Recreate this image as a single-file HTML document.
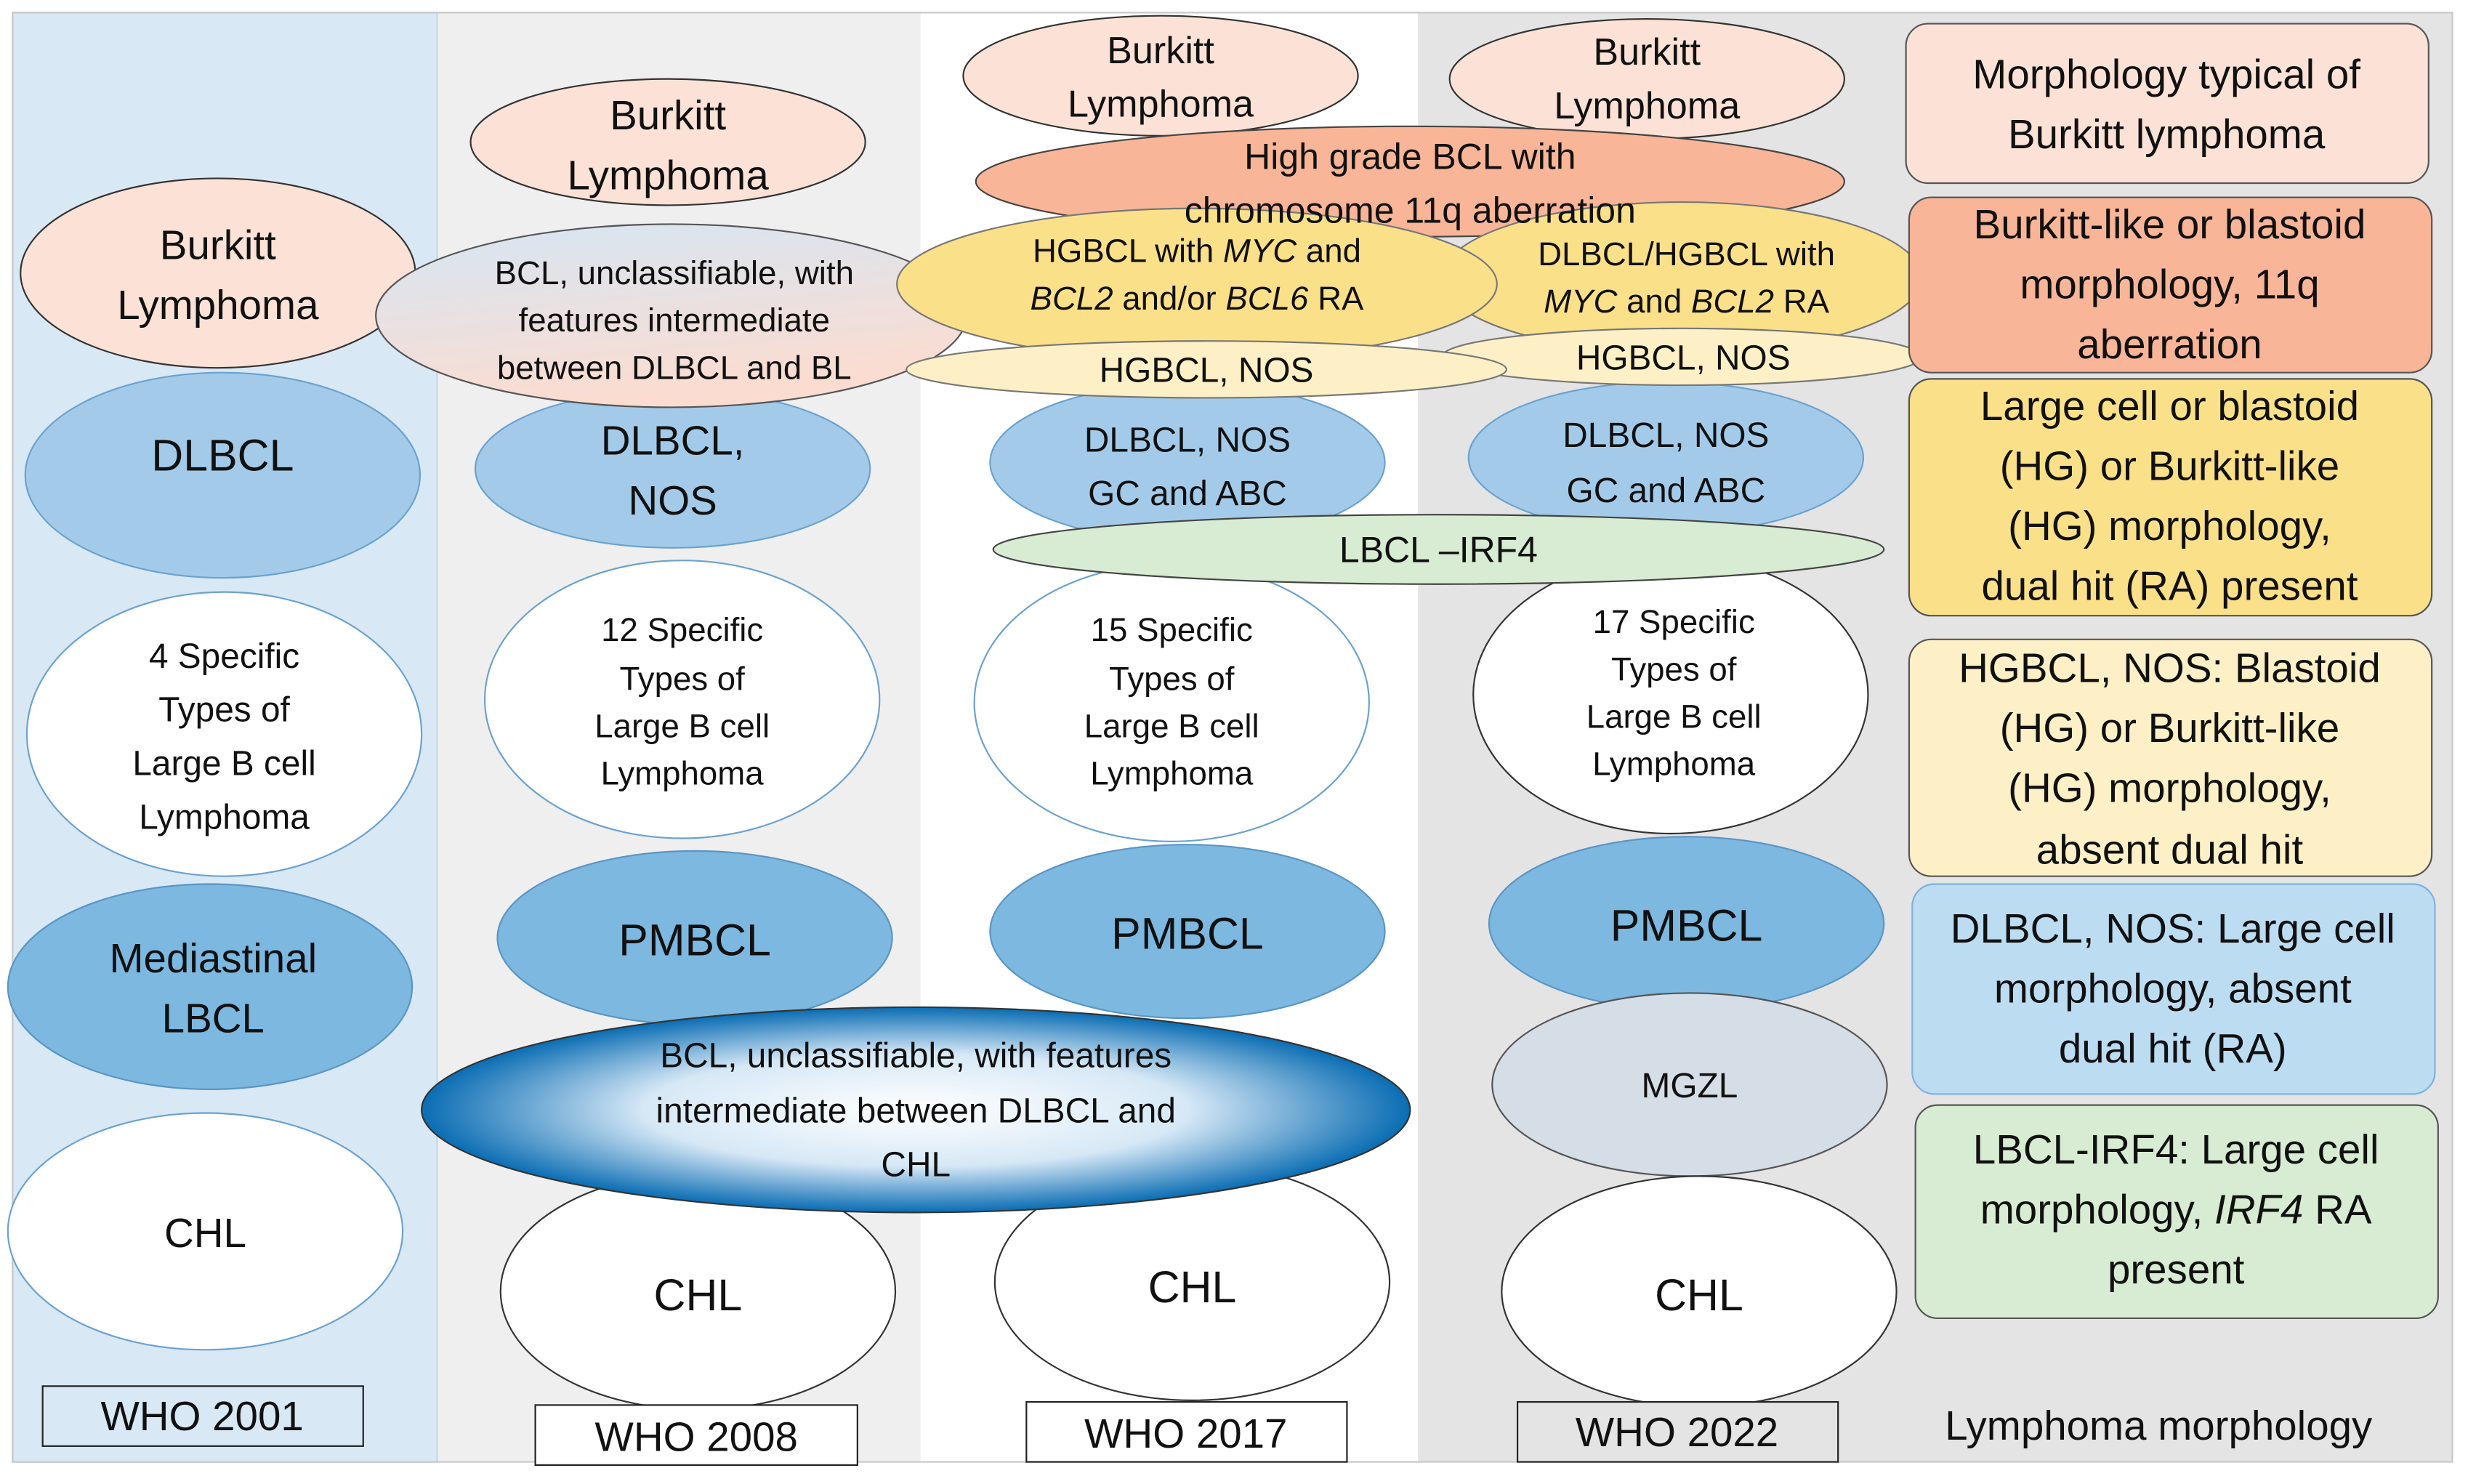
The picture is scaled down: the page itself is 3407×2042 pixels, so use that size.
<!DOCTYPE html>
<html><head><meta charset="utf-8">
<style>
html,body{margin:0;padding:0;background:#fff;}
svg{display:block;}
text{font-family:"Liberation Sans",Arial,sans-serif;fill:#111;}
</style></head>
<body>
<svg width="3407" height="2042" viewBox="0 0 1568 940" preserveAspectRatio="none" xmlns="http://www.w3.org/2000/svg">
<defs>
<linearGradient id="g1" x1="0" y1="0" x2="0.3" y2="1">
<stop offset="0" stop-color="#d6e6f4"/><stop offset="1" stop-color="#fbdcd0"/>
</linearGradient>
<radialGradient id="g2" cx="0.5" cy="0.5" r="0.5">
<stop offset="0" stop-color="#ffffff"/><stop offset="0.55" stop-color="#d6e8f6"/><stop offset="1" stop-color="#0a6db3"/>
</radialGradient>
</defs>
<rect x="0" y="0" width="1568" height="940" fill="#fff"/>
<rect x="8" y="8" width="269" height="918" fill="#d9e8f5" stroke="#9cc3e3" stroke-width="1"/>
<rect x="277" y="8" width="306" height="918" fill="#efefef"/>
<rect x="583" y="8" width="315" height="918" fill="#ffffff"/>
<rect x="898" y="8" width="655" height="918" fill="#e4e4e4"/>
<rect x="8" y="8" width="1545" height="918" fill="none" stroke="#c8c8c8"/>

<g stroke="#333" stroke-width="1">
<ellipse cx="138" cy="173" rx="125" ry="60" fill="#fce2d6"/>
<ellipse cx="141" cy="301" rx="125" ry="65" fill="#a3cbe9" stroke="#6aa2cf"/>
<ellipse cx="142" cy="465" rx="125" ry="90" fill="#fff" stroke="#6aa2cf"/>
<ellipse cx="133" cy="625" rx="128" ry="65" fill="#7db8e0" stroke="#5a95c4"/>
<ellipse cx="130" cy="780" rx="125" ry="75" fill="#fff" stroke="#6aa2cf"/>
<ellipse cx="423" cy="90" rx="125" ry="40" fill="#fce2d6"/>
<ellipse cx="426" cy="297" rx="125" ry="50" fill="#a3cbe9" stroke="#6aa2cf"/>
<ellipse cx="425" cy="200" rx="187" ry="58" fill="url(#g1)" stroke="#555"/>
<ellipse cx="432" cy="443" rx="125" ry="88" fill="#fff" stroke="#6aa2cf"/>
<ellipse cx="440" cy="594" rx="125" ry="55" fill="#7db8e0" stroke="#5a95c4"/>
<ellipse cx="442" cy="818" rx="125" ry="75" fill="#fff" stroke="#333"/>
<ellipse cx="735" cy="48" rx="125" ry="38" fill="#fce2d6"/>
<ellipse cx="752" cy="293" rx="125" ry="50" fill="#a3cbe9" stroke="#6aa2cf"/>
<ellipse cx="742" cy="445" rx="125" ry="88" fill="#fff" stroke="#6aa2cf"/>
<ellipse cx="752" cy="590" rx="125" ry="55" fill="#7db8e0" stroke="#5a95c4"/>
<ellipse cx="755" cy="812" rx="125" ry="75" fill="#fff" stroke="#333"/>
<ellipse cx="1043" cy="50" rx="125" ry="38" fill="#fce2d6"/>
<ellipse cx="1055" cy="290" rx="125" ry="48" fill="#a3cbe9" stroke="#6aa2cf"/>
<ellipse cx="1058" cy="440" rx="125" ry="88" fill="#fff" stroke="#333"/>
<ellipse cx="1068" cy="585" rx="125" ry="55" fill="#7db8e0" stroke="#5a95c4"/>
<ellipse cx="1070" cy="687" rx="125" ry="58" fill="#d5dde7" stroke="#555"/>
<ellipse cx="1076" cy="818" rx="125" ry="73" fill="#fff" stroke="#333"/>
<ellipse cx="893" cy="115" rx="275" ry="35" fill="#f8b597" stroke="#444"/>
<ellipse cx="1065" cy="176" rx="152" ry="48" fill="#fbe08a" stroke="#777"/>
<ellipse cx="1065" cy="226" rx="152" ry="18" fill="#fdf0c6" stroke="#777"/>
<ellipse cx="758" cy="180" rx="190" ry="48" fill="#fbe08a" stroke="#777"/>
<ellipse cx="764" cy="234" rx="190" ry="18" fill="#fdf0c6" stroke="#777"/>
<ellipse cx="911" cy="348" rx="282" ry="22" fill="#d7ecd2" stroke="#444"/>
<ellipse cx="580" cy="703" rx="313" ry="65" fill="url(#g2)" stroke="#333"/>
<rect x="27" y="878" width="203" height="38" fill="#d9e8f5" stroke="#222"/>
<rect x="339" y="890" width="204" height="38" fill="#fff" stroke="#222"/>
<rect x="650" y="888" width="203" height="38" fill="#fff" stroke="#222"/>
<rect x="961" y="888" width="203" height="38" fill="#e4e4e4" stroke="#222"/>
<rect x="1207" y="15" width="331" height="101" rx="14" fill="#fce2d6" stroke="#555"/>
<rect x="1209" y="125" width="331" height="111" rx="14" fill="#f8b597" stroke="#555"/>
<rect x="1209" y="240" width="331" height="150" rx="14" fill="#fbe08a" stroke="#555"/>
<rect x="1209" y="405" width="331" height="150" rx="14" fill="#fdf0c6" stroke="#555"/>
<rect x="1211" y="560" width="331" height="133" rx="14" fill="#bcdcf2" stroke="#7ab3de"/>
<rect x="1213" y="700" width="331" height="135" rx="14" fill="#d7ecd2" stroke="#555"/>
</g>

<g text-anchor="middle" font-size="26">
<text x="138" y="164">Burkitt</text><text x="138" y="202">Lymphoma</text>
<text x="141" y="298" font-size="28">DLBCL</text>
<text x="142" y="423" font-size="22">4 Specific</text><text x="142" y="457" font-size="22">Types of</text><text x="142" y="491" font-size="22">Large B cell</text><text x="142" y="525" font-size="22">Lymphoma</text>
<text x="135" y="616">Mediastinal</text><text x="135" y="654">LBCL</text>
<text x="130" y="790">CHL</text>
<text x="128" y="906">WHO 2001</text>
<text x="423" y="82">Burkitt</text><text x="423" y="120">Lymphoma</text>
<text x="427" y="180" font-size="21">BCL, unclassifiable, with</text><text x="427" y="210" font-size="21">features intermediate</text><text x="427" y="240" font-size="21">between DLBCL and BL</text>
<text x="426" y="288">DLBCL,</text><text x="426" y="326">NOS</text>
<text x="432" y="406" font-size="21">12 Specific</text><text x="432" y="437" font-size="21">Types of</text><text x="432" y="467" font-size="21">Large B cell</text><text x="432" y="497" font-size="21">Lymphoma</text>
<text x="440" y="605" font-size="28">PMBCL</text>
<text x="580" y="676" font-size="22">BCL, unclassifiable,  with features</text><text x="580" y="711" font-size="22">intermediate  between DLBCL and</text><text x="580" y="745" font-size="22">CHL</text>
<text x="442" y="830" font-size="28">CHL</text>
<text x="441" y="919">WHO 2008</text>
<text x="735" y="40" font-size="24">Burkitt</text><text x="735" y="74" font-size="24">Lymphoma</text>
<text x="893" y="107" font-size="23">High grade BCL with</text><text x="893" y="141" font-size="23">chromosome  11q aberration</text>
<text x="758" y="166" font-size="21">HGBCL with <tspan font-style="italic">MYC</tspan> and</text><text x="758" y="196" font-size="21"><tspan font-style="italic">BCL2</tspan> and/or <tspan font-style="italic">BCL6</tspan>  RA</text>
<text x="764" y="242" font-size="22">HGBCL, NOS</text>
<text x="752" y="286" font-size="22">DLBCL, NOS</text><text x="752" y="320" font-size="22">GC and ABC</text>
<text x="911" y="356" font-size="23">LBCL –IRF4</text>
<text x="742" y="406" font-size="21">15 Specific</text><text x="742" y="437" font-size="21">Types of</text><text x="742" y="467" font-size="21">Large B cell</text><text x="742" y="497" font-size="21">Lymphoma</text>
<text x="752" y="601" font-size="28">PMBCL</text>
<text x="755" y="825" font-size="28">CHL</text>
<text x="751" y="917">WHO 2017</text>
<text x="1043" y="41" font-size="24">Burkitt</text><text x="1043" y="75" font-size="24">Lymphoma</text>
<text x="1068" y="168" font-size="21">DLBCL/HGBCL with</text><text x="1068" y="198" font-size="21"><tspan font-style="italic">MYC</tspan> and <tspan font-style="italic">BCL2</tspan> RA</text>
<text x="1066" y="234" font-size="22">HGBCL, NOS</text>
<text x="1055" y="283" font-size="22">DLBCL, NOS</text><text x="1055" y="318" font-size="22">GC and ABC</text>
<text x="1060" y="401" font-size="21">17 Specific</text><text x="1060" y="431" font-size="21">Types of</text><text x="1060" y="461" font-size="21">Large B cell</text><text x="1060" y="491" font-size="21">Lymphoma</text>
<text x="1068" y="596" font-size="28">PMBCL</text>
<text x="1070" y="695" font-size="22">MGZL</text>
<text x="1076" y="830" font-size="28">CHL</text>
<text x="1062" y="916">WHO 2022</text>
<text x="1372" y="56">Morphology typical of</text><text x="1372" y="94">Burkitt lymphoma</text>
<text x="1374" y="151">Burkitt-like or blastoid</text><text x="1374" y="189">morphology, 11q</text><text x="1374" y="227">aberration</text>
<text x="1374" y="266">Large cell or blastoid</text><text x="1374" y="304">(HG) or Burkitt-like</text><text x="1374" y="342">(HG) morphology,</text><text x="1374" y="380">dual hit (RA) present</text>
<text x="1374" y="432">HGBCL, NOS: Blastoid</text><text x="1374" y="470">(HG) or Burkitt-like</text><text x="1374" y="508">(HG) morphology,</text><text x="1374" y="547">absent dual hit</text>
<text x="1376" y="597">DLBCL, NOS: Large cell</text><text x="1376" y="635">morphology, absent</text><text x="1376" y="673">dual hit (RA)</text>
<text x="1378" y="737">LBCL-IRF4: Large cell</text><text x="1378" y="775">morphology, <tspan font-style="italic">IRF4</tspan> RA</text><text x="1378" y="813">present</text>
<text x="1367" y="912">Lymphoma morphology</text>
</g>
</svg>
</body></html>
